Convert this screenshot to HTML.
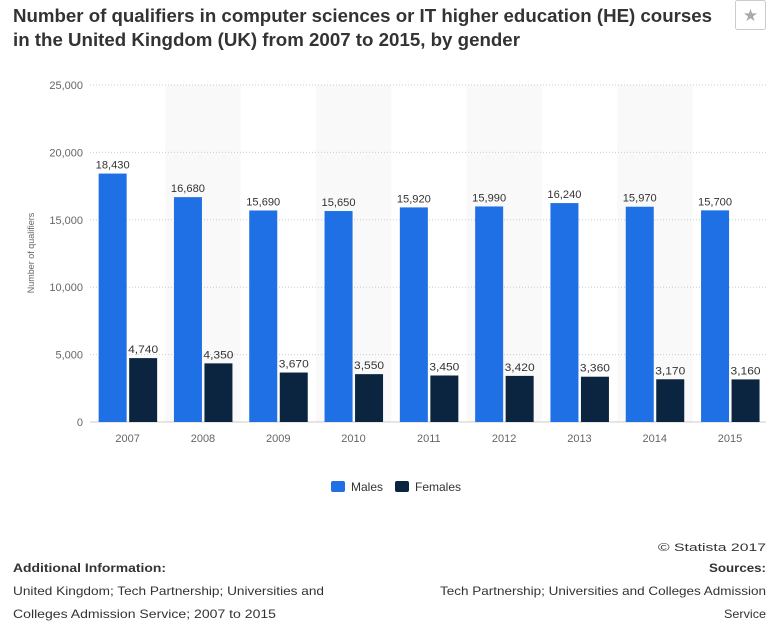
<!DOCTYPE html>
<html><head><meta charset="utf-8"><style>
body{margin:0;background:#fff;width:776px;height:627px;overflow:hidden;font-family:"Liberation Sans",sans-serif}
svg{position:absolute;left:0;top:0}
</style></head><body>
<svg width="776" height="627" id="chart">
<text x="13" y="22" font-size="18" font-weight="bold" fill="#333" textLength="699" lengthAdjust="spacingAndGlyphs">Number of qualifiers in computer sciences or IT higher education (HE) courses</text>
<text x="13" y="46" font-size="18" font-weight="bold" fill="#333" textLength="507" lengthAdjust="spacingAndGlyphs">in the United Kingdom (UK) from 2007 to 2015, by gender</text>
<g><rect x="735.5" y="0.5" width="30" height="29" rx="2" fill="#fff" stroke="#ccc"/><text x="750.5" y="21" font-size="17" fill="#aaa" text-anchor="middle">★</text></g>
<text transform="translate(34,253) rotate(-90)" font-size="9" fill="#666" text-anchor="middle">Number of qualifiers</text>
<g id="bands"></g><g id="grid"></g><g id="bars"></g><g id="labels"></g>
<g>
<g><rect x="331" y="481" width="14" height="11" rx="2" fill="#1f6fe5"/><text x="351" y="491" font-size="12" fill="#333">Males</text></g>
<g><rect x="395" y="481" width="14" height="11" rx="2" fill="#0b2540"/><text x="415" y="491" font-size="12" fill="#333">Females</text></g>
</g>
<text x="766" y="551" font-size="11" fill="#333" text-anchor="end" textLength="108" lengthAdjust="spacingAndGlyphs">© Statista 2017</text>
<text x="13" y="572" font-size="12" font-weight="bold" fill="#333" textLength="153" lengthAdjust="spacingAndGlyphs">Additional Information:</text>
<text x="13" y="595" font-size="12" fill="#333" textLength="311" lengthAdjust="spacingAndGlyphs">United Kingdom; Tech Partnership; Universities and</text>
<text x="13" y="618" font-size="12" fill="#333" textLength="263" lengthAdjust="spacingAndGlyphs">Colleges Admission Service; 2007 to 2015</text>
<text x="766" y="572" font-size="12" font-weight="bold" fill="#333" text-anchor="end" textLength="57" lengthAdjust="spacingAndGlyphs">Sources:</text>
<text x="766" y="595" font-size="12" fill="#333" text-anchor="end" textLength="326" lengthAdjust="spacingAndGlyphs">Tech Partnership; Universities and Colleges Admission</text>
<text x="766" y="618" font-size="12" fill="#333" text-anchor="end" textLength="42" lengthAdjust="spacingAndGlyphs">Service</text>
</svg>
<script>
const categories=["2007","2008","2009","2010","2011","2012","2013","2014","2015"];
const males=[18430,16680,15690,15650,15920,15990,16240,15970,15700];
const females=[4740,4350,3670,3550,3450,3420,3360,3170,3160];
const yTicks=[0,5000,10000,15000,20000,25000];
const NS="http://www.w3.org/2000/svg";
const x0=90,bw=75.3,yTop=85,yBot=422,yMax=25000;
const y=v=>yBot-(v/yMax)*(yBot-yTop);
const xc=i=>x0+bw*(i+0.5);
const fmt=v=>v.toLocaleString("en-US");
function mk(tag,attrs,parent,txt){const e=document.createElementNS(NS,tag);for(const k in attrs)e.setAttribute(k,attrs[k]);if(txt!=null)e.textContent=txt;document.getElementById(parent).appendChild(e);return e;}
categories.forEach((c,i)=>{if(i%2==1){const b=mk('rect',{x:x0+bw*i,y:yTop,width:bw,height:yBot-yTop,fill:'#f9f9f9'},'bands');

}});
yTicks.forEach(t=>{const l=mk('line',{x1:x0,x2:766,y1:y(t),y2:y(t),stroke:'#ccc','stroke-dasharray':t==0?'':'1,2'},'grid');


const tx=mk('text',{x:83,y:y(t)+4,'font-size':11,fill:'#666','text-anchor':'end'},'labels',fmt(t));

});
categories.forEach((c,i)=>{const cx=xc(i);
const m=mk('rect',{x:cx-29,y:y(males[i]),width:28,height:yBot-y(males[i]),fill:'#1f6fe5'},'bars');


const f=mk('rect',{x:cx+1.5,y:y(females[i]),width:28,height:yBot-y(females[i]),fill:'#0b2540'},'bars');


const ml=mk('text',{x:cx-15,y:y(males[i])-5,'font-size':11,fill:'#333','text-anchor':'middle',textLength:34,lengthAdjust:'spacingAndGlyphs'},'labels',fmt(males[i]));


const fl=mk('text',{x:cx+15.5,y:y(females[i])-5,'font-size':11,fill:'#333','text-anchor':'middle',textLength:30,lengthAdjust:'spacingAndGlyphs'},'labels',fmt(females[i]));


const xl=mk('text',{x:cx,y:442,'font-size':11,fill:'#666','text-anchor':'middle'},'labels',c);

});
</script>
</body></html>
